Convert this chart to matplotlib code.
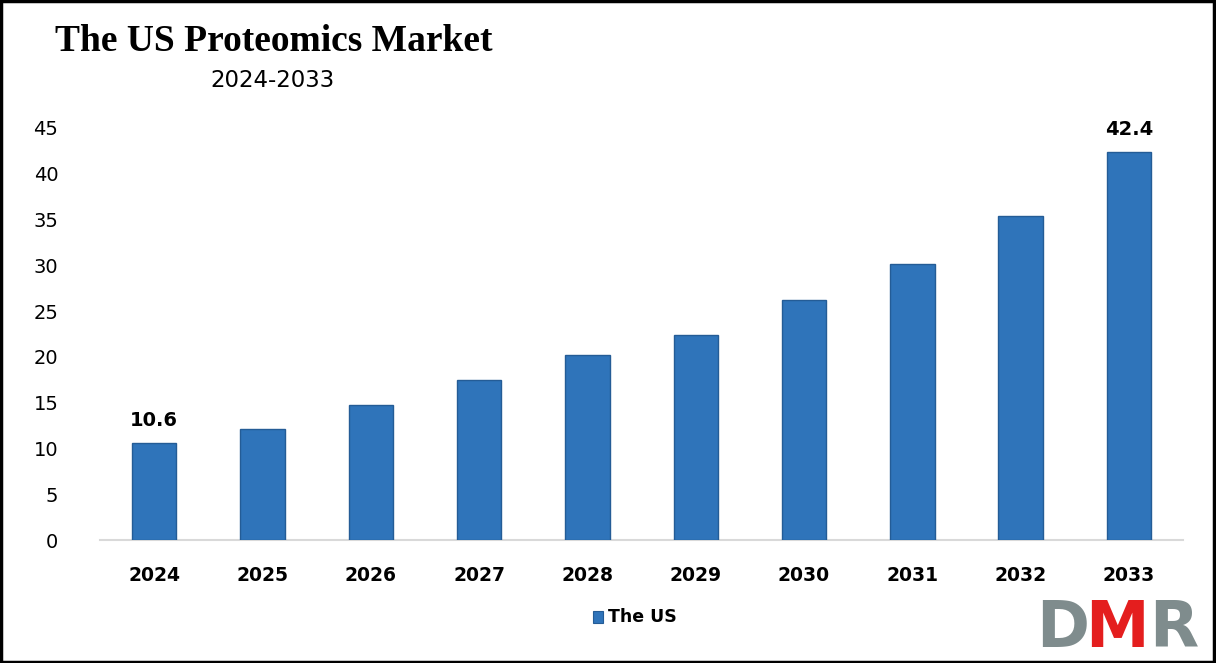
import matplotlib
matplotlib.use("Agg")
import matplotlib.pyplot as plt
from matplotlib.patches import Rectangle

# === Data ===
years = ["2024", "2025", "2026", "2027", "2028", "2029", "2030", "2031", "2032", "2033"]
values = [10.6, 12.1, 14.7, 17.5, 20.2, 22.4, 26.2, 30.1, 35.4, 42.4]
labeled = ["2024", "2033"]  # only first and last bars carry a value label
y_ticks = [0, 5, 10, 15, 20, 25, 30, 35, 40, 45]

BAR = "#2F74BA"
EDGE = "#245C96"

fig = plt.figure(figsize=(12.16, 6.63), dpi=100)
ax = fig.add_axes([0.0822, 0.1855, 0.8908, 0.6215])

x = list(range(len(years)))
ax.bar(x, values, width=0.41, color=BAR, edgecolor=EDGE, linewidth=1.0, zorder=3)

for xi, yr, v in zip(x, years, values):
    if yr in labeled:
        ax.text(xi, v + 1.4, f"{v:.1f}", ha="center", va="bottom",
                fontsize=14, fontweight="bold", color="black")

ax.set_xlim(-0.5, len(years) - 0.5)
ax.set_ylim(0, 45)
ax.set_yticks(y_ticks)
ax.set_xticks(x)
ax.set_xticklabels(years, fontsize=13.5, fontweight="bold")
ax.tick_params(axis="y", labelsize=14, length=0, pad=30)
ax.tick_params(axis="x", length=0, pad=19)
for s in ["top", "right", "left"]:
    ax.spines[s].set_visible(False)
ax.spines["bottom"].set_color("#D9D9D9")
ax.spines["bottom"].set_linewidth(1.5)

# title + subtitle
fig.text(0.045, 0.937, "The US Proteomics Market", family="Liberation Serif",
         fontsize=27, fontweight="bold", ha="left", va="center")
fig.text(0.2245, 0.878, "2024-2033", fontsize=16.5, ha="center", va="center")

# legend
fig.patches.append(Rectangle((0.4875, 0.060), 0.0085, 0.018, transform=fig.transFigure,
                             facecolor=BAR, edgecolor=EDGE, linewidth=0.8))
fig.text(0.500, 0.070, "The US", fontsize=12.5, fontweight="bold", ha="left", va="center")

# DMR logo
logo_y = 0.005
fig.text(0.852, logo_y, "D", fontsize=46, fontweight="bold", color="#7F8C8D", ha="left", va="bottom")
fig.text(0.892, logo_y, "M", fontsize=46, fontweight="bold", color="#E41E1E", ha="left", va="bottom")
fig.text(0.945, logo_y, "R", fontsize=46, fontweight="bold", color="#7F8C8D", ha="left", va="bottom")

# frame
fig.patches.append(Rectangle((0.001, 0.002), 0.997, 0.996, transform=fig.transFigure,
                             fill=False, edgecolor="black", linewidth=2.5))

fig.savefig("out.png", dpi=100)
